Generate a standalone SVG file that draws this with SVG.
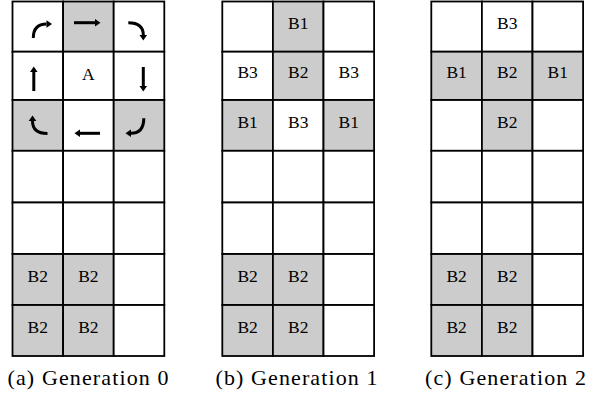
<svg xmlns="http://www.w3.org/2000/svg" width="612" height="396" viewBox="0 0 612 396">
<style>
.c{fill:#ffffff;stroke:#000000;stroke-width:1.8}
.g{fill:#cccccc;stroke:#000000;stroke-width:1.8}
text{font-family:'Liberation Serif','DejaVu Serif','Times New Roman',serif;fill:#000;text-anchor:middle}
.t{font-size:17.5px}
.cap{font-size:22px}
.ar{fill:none;stroke:#000;stroke-width:3;marker-end:url(#ah)}
</style>
<defs>
<marker id="ah" markerUnits="userSpaceOnUse" markerWidth="10" markerHeight="10" viewBox="0 -5 7 10" refX="0" refY="0" orient="auto">
<path d="M0,-3.8 L5.5,0 L0,3.8 Z" fill="#000"/>
</marker>
</defs>
<rect width="612" height="396" fill="#ffffff"/>

<g id="grid-a">
<rect class="c" x="12.5" y="1.5" width="50.6" height="50.2"/>
<rect class="g" x="63.1" y="1.5" width="50.6" height="50.2"/>
<rect class="c" x="113.7" y="1.5" width="50.6" height="50.2"/>
<rect class="c" x="12.5" y="51.7" width="50.6" height="48.3"/>
<rect class="c" x="63.1" y="51.7" width="50.6" height="48.3"/>
<rect class="c" x="113.7" y="51.7" width="50.6" height="48.3"/>
<rect class="g" x="12.5" y="100" width="50.6" height="50.8"/>
<rect class="c" x="63.1" y="100" width="50.6" height="50.8"/>
<rect class="g" x="113.7" y="100" width="50.6" height="50.8"/>
<rect class="c" x="12.5" y="150.8" width="50.6" height="51.7"/>
<rect class="c" x="63.1" y="150.8" width="50.6" height="51.7"/>
<rect class="c" x="113.7" y="150.8" width="50.6" height="51.7"/>
<rect class="c" x="12.5" y="202.5" width="50.6" height="51.5"/>
<rect class="c" x="63.1" y="202.5" width="50.6" height="51.5"/>
<rect class="c" x="113.7" y="202.5" width="50.6" height="51.5"/>
<rect class="g" x="12.5" y="254" width="50.6" height="51"/>
<rect class="g" x="63.1" y="254" width="50.6" height="51"/>
<rect class="c" x="113.7" y="254" width="50.6" height="51"/>
<rect class="g" x="12.5" y="305" width="50.6" height="51"/>
<rect class="g" x="63.1" y="305" width="50.6" height="51"/>
<rect class="c" x="113.7" y="305" width="50.6" height="51"/>
<text class="t" x="88.4" y="79.5" font-family="Liberation Serif, serif">A</text>
<text class="t" x="37.8" y="282" font-family="Liberation Serif, serif">B2</text>
<text class="t" x="88.4" y="282" font-family="Liberation Serif, serif">B2</text>
<text class="t" x="37.8" y="333" font-family="Liberation Serif, serif">B2</text>
<text class="t" x="88.4" y="333" font-family="Liberation Serif, serif">B2</text>
<text class="cap" x="88" y="385" textLength="161" lengthAdjust="spacing" font-family="Liberation Serif, serif">(a) Generation 0</text>
</g>

<g id="arrows">
<path class="ar" d="M33.3,38 Q33.3,24 46.5,24"/>
<path class="ar" d="M74,22.7 L95,22.7"/>
<path class="ar" d="M128.3,22.7 Q143.3,22.7 143.3,35"/>
<path class="ar" d="M33.8,91 L33.8,72"/>
<path class="ar" d="M143.3,67 L143.3,86"/>
<path class="ar" d="M47.5,133.5 Q32.5,133.5 32.5,121"/>
<path class="ar" d="M100,133.3 L80,133.3"/>
<path class="ar" d="M143.8,118.3 Q143.8,133.3 131,133.3"/>
</g>

<g id="grid-b">
<rect class="c" x="222.3" y="1.5" width="50.6" height="50.2"/>
<rect class="g" x="272.9" y="1.5" width="50.6" height="50.2"/>
<rect class="c" x="323.5" y="1.5" width="50.6" height="50.2"/>
<rect class="c" x="222.3" y="51.7" width="50.6" height="48.3"/>
<rect class="g" x="272.9" y="51.7" width="50.6" height="48.3"/>
<rect class="c" x="323.5" y="51.7" width="50.6" height="48.3"/>
<rect class="g" x="222.3" y="100" width="50.6" height="50.8"/>
<rect class="c" x="272.9" y="100" width="50.6" height="50.8"/>
<rect class="g" x="323.5" y="100" width="50.6" height="50.8"/>
<rect class="c" x="222.3" y="150.8" width="50.6" height="51.7"/>
<rect class="c" x="272.9" y="150.8" width="50.6" height="51.7"/>
<rect class="c" x="323.5" y="150.8" width="50.6" height="51.7"/>
<rect class="c" x="222.3" y="202.5" width="50.6" height="51.5"/>
<rect class="c" x="272.9" y="202.5" width="50.6" height="51.5"/>
<rect class="c" x="323.5" y="202.5" width="50.6" height="51.5"/>
<rect class="g" x="222.3" y="254" width="50.6" height="51"/>
<rect class="g" x="272.9" y="254" width="50.6" height="51"/>
<rect class="c" x="323.5" y="254" width="50.6" height="51"/>
<rect class="g" x="222.3" y="305" width="50.6" height="51"/>
<rect class="g" x="272.9" y="305" width="50.6" height="51"/>
<rect class="c" x="323.5" y="305" width="50.6" height="51"/>
<text class="t" x="298.2" y="29.1" font-family="Liberation Serif, serif">B1</text>
<text class="t" x="247.6" y="78.4" font-family="Liberation Serif, serif">B3</text>
<text class="t" x="298.2" y="78.4" font-family="Liberation Serif, serif">B2</text>
<text class="t" x="348.8" y="78.4" font-family="Liberation Serif, serif">B3</text>
<text class="t" x="247.6" y="127.9" font-family="Liberation Serif, serif">B1</text>
<text class="t" x="298.2" y="127.9" font-family="Liberation Serif, serif">B3</text>
<text class="t" x="348.8" y="127.9" font-family="Liberation Serif, serif">B1</text>
<text class="t" x="247.6" y="282" font-family="Liberation Serif, serif">B2</text>
<text class="t" x="298.2" y="282" font-family="Liberation Serif, serif">B2</text>
<text class="t" x="247.6" y="333" font-family="Liberation Serif, serif">B2</text>
<text class="t" x="298.2" y="333" font-family="Liberation Serif, serif">B2</text>
<text class="cap" x="296.5" y="385" textLength="162" lengthAdjust="spacing" font-family="Liberation Serif, serif">(b) Generation 1</text>
</g>

<g id="grid-c">
<rect class="c" x="431.3" y="1.5" width="50.6" height="50.2"/>
<rect class="c" x="481.9" y="1.5" width="50.6" height="50.2"/>
<rect class="c" x="532.5" y="1.5" width="50.6" height="50.2"/>
<rect class="g" x="431.3" y="51.7" width="50.6" height="48.3"/>
<rect class="g" x="481.9" y="51.7" width="50.6" height="48.3"/>
<rect class="g" x="532.5" y="51.7" width="50.6" height="48.3"/>
<rect class="c" x="431.3" y="100" width="50.6" height="50.8"/>
<rect class="g" x="481.9" y="100" width="50.6" height="50.8"/>
<rect class="c" x="532.5" y="100" width="50.6" height="50.8"/>
<rect class="c" x="431.3" y="150.8" width="50.6" height="51.7"/>
<rect class="c" x="481.9" y="150.8" width="50.6" height="51.7"/>
<rect class="c" x="532.5" y="150.8" width="50.6" height="51.7"/>
<rect class="c" x="431.3" y="202.5" width="50.6" height="51.5"/>
<rect class="c" x="481.9" y="202.5" width="50.6" height="51.5"/>
<rect class="c" x="532.5" y="202.5" width="50.6" height="51.5"/>
<rect class="g" x="431.3" y="254" width="50.6" height="51"/>
<rect class="g" x="481.9" y="254" width="50.6" height="51"/>
<rect class="c" x="532.5" y="254" width="50.6" height="51"/>
<rect class="g" x="431.3" y="305" width="50.6" height="51"/>
<rect class="g" x="481.9" y="305" width="50.6" height="51"/>
<rect class="c" x="532.5" y="305" width="50.6" height="51"/>
<text class="t" x="507.2" y="29.1" font-family="Liberation Serif, serif">B3</text>
<text class="t" x="456.6" y="78.4" font-family="Liberation Serif, serif">B1</text>
<text class="t" x="507.2" y="78.4" font-family="Liberation Serif, serif">B2</text>
<text class="t" x="557.8" y="78.4" font-family="Liberation Serif, serif">B1</text>
<text class="t" x="507.2" y="127.9" font-family="Liberation Serif, serif">B2</text>
<text class="t" x="456.6" y="282" font-family="Liberation Serif, serif">B2</text>
<text class="t" x="507.2" y="282" font-family="Liberation Serif, serif">B2</text>
<text class="t" x="456.6" y="333" font-family="Liberation Serif, serif">B2</text>
<text class="t" x="507.2" y="333" font-family="Liberation Serif, serif">B2</text>
<text class="cap" x="505.5" y="385" textLength="161" lengthAdjust="spacing" font-family="Liberation Serif, serif">(c) Generation 2</text>
</g>
</svg>
